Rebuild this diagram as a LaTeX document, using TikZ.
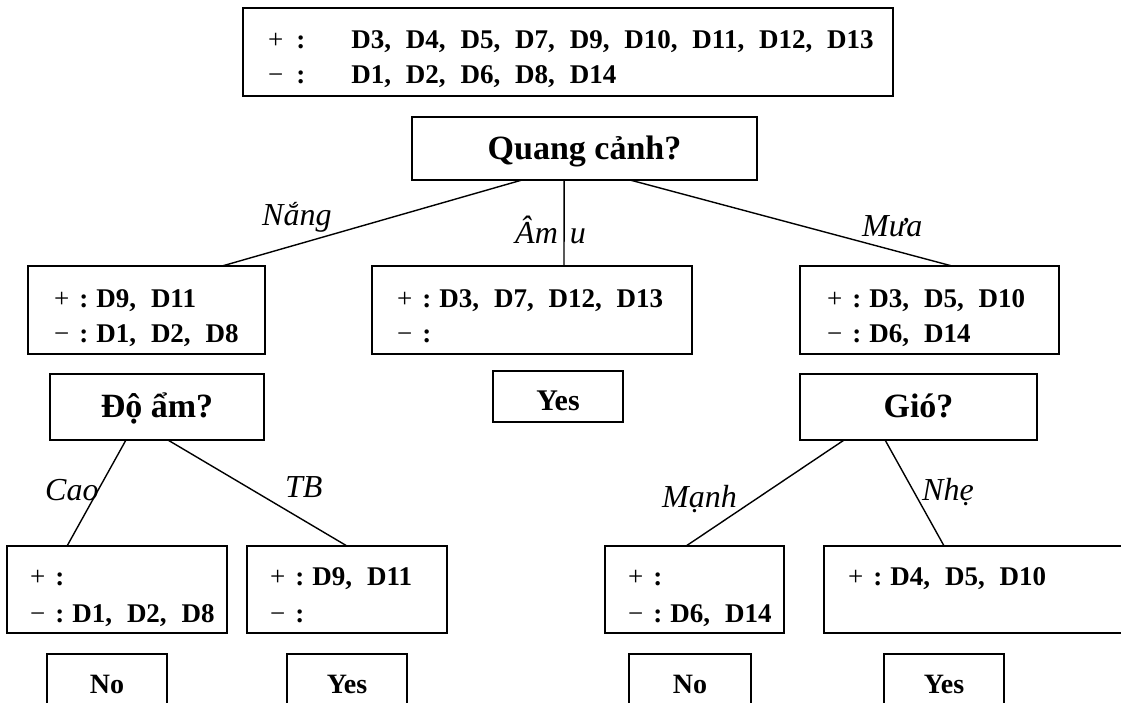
\documentclass[tikz,border=0pt]{standalone}
\usepackage{fontspec}
\setmainfont{Liberation Serif}
\newfontfamily\datafont{Liberation Serif}[WordSpace=2.2]
\usetikzlibrary{calc}

% row prefixes "+ :" and "− :" (sign in regular weight, colon bold)
\newcommand\plusrow{{\mdseries +}\hspace{10pt}:\hspace{8pt}}
\newcommand\minusrow{{\mdseries −}\hspace{10pt}:\hspace{8pt}}

% multi-line text nodes are anchored at the baseline of their last line
\tikzset{
  box/.style={draw, line width=1.6pt, rectangle, inner sep=0pt, outer sep=0pt, anchor=north west},
  conn/.style={line width=1.4pt},
  question/.style={font=\fontsize{34}{40}\selectfont\bfseries, text height=21pt, text depth=0pt},
  answer/.style={font=\fontsize{28}{32}\selectfont\bfseries, text height=20pt, text depth=0pt},
  dtext/.style={font=\datafont\fontsize{27}{35}\selectfont\bfseries, align=left, inner sep=0pt, anchor=base west},
  branch/.style={font=\fontsize{32}{36}\selectfont\itshape, inner sep=0pt, anchor=base west},
}

\begin{document}
\begin{tikzpicture}[x=1pt, y=-1pt]
\useasboundingbox (0,0) rectangle (1121,702);
\fill[white] (0,0) rectangle (1121,702);
\clip (0,0) rectangle (1121,702);

% root: the whole data set
\node[box, minimum width=650, minimum height=88] (all) at (243,8) {};
\node[dtext] (allt) at ([shift={(25,75)}]all.north west)
  {{\mdseries +}\hspace{13pt}:\hspace{46pt}D3, D4, D5, D7, D9, D10, D11, D12, D13\\
   {\mdseries −}\hspace{13pt}:\hspace{46pt}D1, D2, D6, D8, D14};

% first test
\node[box, question, minimum width=345, minimum height=63] (q) at (412,117) {Quang cảnh?};

% second level
\node[box, minimum width=237, minimum height=88] (sun) at (28,266) {};
\node[dtext] (sunt) at ([shift={(26,76)}]sun.north west) {\plusrow D9, D11\\ \minusrow D1, D2, D8};
\node[box, minimum width=320, minimum height=88] (cloud) at (372,266) {};
\node[dtext] (cloudt) at ([shift={(25,76)}]cloud.north west) {\plusrow D3, D7, D12, D13\\ \minusrow};
\node[box, minimum width=259, minimum height=88] (rain) at (800,266) {};
\node[dtext] (raint) at ([shift={(27,76)}]rain.north west) {\plusrow D3, D5, D10\\ \minusrow D6, D14};

\draw[conn] ($(q.south west)!0.319!(q.south east)$) -- ($(sun.north west)!0.819!(sun.north east)$);
\draw[conn] ($(q.south west)!0.441!(q.south east)$) -- ($(cloud.north west)!0.6!(cloud.north east)$);
\draw[conn] ($(q.south west)!0.632!(q.south east)$) -- ($(rain.north west)!0.587!(rain.north east)$);

\node[branch] (lsun) at (262,225) {Nắng};
\node[branch] (lcloud) at (515,243) {Âm\hspace{12pt}u};
\node[branch] (lrain) at (862,236) {Mưa};

% third level
\node[box, answer, font=\fontsize{30}{34}\selectfont\bfseries, text height=27pt, minimum width=130, minimum height=51] (yes0) at (493,371) {Yes};
\node[box, question, minimum width=214, minimum height=66] (hum) at (50,374) {Độ ẩm?};
\node[box, question, minimum width=237, minimum height=66] (wind) at (800,374) {Gió?};

% leaves
\node[box, minimum width=220, minimum height=87] (high) at (7,546) {};
\node[dtext] (hight) at ([shift={(23,76)}]high.north west) {\plusrow\\[2pt] \minusrow D1, D2, D8};
\node[box, minimum width=200, minimum height=87] (norm) at (247,546) {};
\node[dtext] (normt) at ([shift={(23,76)}]norm.north west) {\plusrow D9, D11\\[2pt] \minusrow};
\node[box, minimum width=179, minimum height=87] (strong) at (605,546) {};
\node[dtext] (strongt) at ([shift={(23,76)}]strong.north west) {\plusrow\\[2pt] \minusrow D6, D14};
\node[box, minimum width=316, minimum height=87] (weak) at (824,546) {};
\node[dtext] (weakt) at ([shift={(24,39)}]weak.north west) {\plusrow D4, D5, D10};

\draw[conn] ($(hum.south west)!0.355!(hum.south east)$) -- ($(high.north west)!0.273!(high.north east)$);
\draw[conn] ($(hum.south west)!0.551!(hum.south east)$) -- ($(norm.north west)!0.5!(norm.north east)$);
\draw[conn] ($(wind.south west)!0.186!(wind.south east)$) -- ($(strong.north west)!0.453!(strong.north east)$);
\draw[conn] ($(wind.south west)!0.359!(wind.south east)$) -- ($(weak.north west)!0.38!(weak.north east)$);

\node[branch] (lhigh) at (45,500) {Cao};
\node[branch] (lnorm) at (285,497) {TB};
\node[branch] (lstrong) at (662,507) {Mạnh};
\node[branch] (lweak) at (922,500) {Nhẹ};

% final answers
\node[box, answer, minimum width=120, minimum height=58] (no1) at (47,654) {No};
\node[box, answer, minimum width=120, minimum height=58] (yes1) at (287,654) {Yes};
\node[box, answer, minimum width=122, minimum height=58] (no2) at (629,654) {No};
\node[box, answer, minimum width=120, minimum height=58] (yes2) at (884,654) {Yes};
\end{tikzpicture}
\end{document}
